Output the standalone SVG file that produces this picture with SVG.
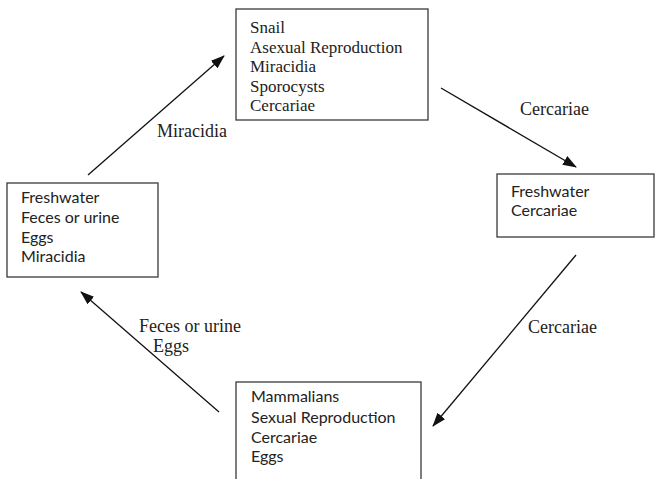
<svg xmlns="http://www.w3.org/2000/svg" width="660" height="479" viewBox="0 0 660 479">
<style>
.box{fill:#fff;stroke:#3a3a3a;stroke-width:1.3}
.serif{font-family:"Liberation Serif","Times New Roman",serif;font-size:17px;fill:#222}
.sans{font-family:Lato,"Liberation Sans",sans-serif;font-size:16px;fill:#222}
.lbl{font-family:"Liberation Serif","Times New Roman",serif;font-size:18px;fill:#222}
.edge{stroke:#111;stroke-width:1.3;fill:none;marker-end:url(#ah)}
</style>
<defs>
<marker id="ah" markerWidth="14" markerHeight="10" refX="13" refY="5" orient="auto" markerUnits="userSpaceOnUse">
<path d="M0,0 L14,5 L0,10 Z" fill="#111"/>
</marker>
</defs>
<rect width="660" height="479" fill="#fff"/>
<g id="snail">
<rect class="box" x="236" y="9" width="192" height="111"/>
<text class="serif" x="250" y="33">Snail</text>
<text class="serif" x="250" y="52.5">Asexual Reproduction</text>
<text class="serif" x="250" y="72">Miracidia</text>
<text class="serif" x="250" y="91.5">Sporocysts</text>
<text class="serif" x="250" y="111">Cercariae</text>
</g>
<g id="freshwater-right">
<rect class="box" x="497" y="174" width="157" height="63"/>
<text class="sans" x="511" y="197">Freshwater</text>
<text class="sans" x="511" y="215.5">Cercariae</text>
</g>
<g id="freshwater-left">
<rect class="box" x="7" y="183" width="151" height="94"/>
<text class="sans" x="21" y="203">Freshwater</text>
<text class="sans" x="21" y="223">Feces or urine</text>
<text class="sans" x="21" y="242.5">Eggs</text>
<text class="sans" x="21" y="262">Miracidia</text>
</g>
<g id="mammalians">
<rect class="box" x="236" y="382" width="185" height="110"/>
<text class="sans" x="251" y="402">Mammalians</text>
<text class="sans" x="251" y="423">Sexual Reproduction</text>
<text class="sans" x="251" y="443">Cercariae</text>
<text class="sans" x="251" y="462">Eggs</text>
</g>
<g id="connectors">
<line class="edge" x1="88" y1="175" x2="224" y2="56"/>
<line class="edge" x1="441" y1="88" x2="576" y2="167"/>
<line class="edge" x1="576" y1="255" x2="433" y2="426"/>
<line class="edge" x1="219" y1="412" x2="81" y2="292"/>
<text class="lbl" x="157" y="137">Miracidia</text>
<text class="lbl" x="520" y="115">Cercariae</text>
<text class="lbl" x="528" y="333">Cercariae</text>
<text class="lbl" x="139" y="332">Feces or urine</text>
<text class="lbl" x="153" y="352">Eggs</text>
</g>
</svg>
